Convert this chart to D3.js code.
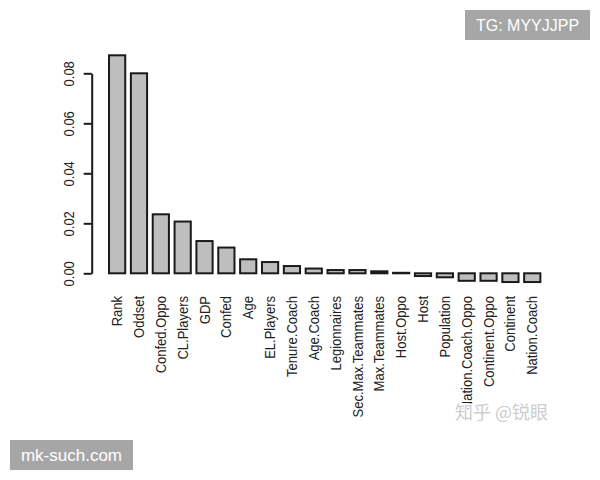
<!DOCTYPE html>
<html>
<head>
<meta charset="utf-8">
<script src="https://cdn.jsdelivr.net/npm/d3@7"></script>
<style>
  html, body { margin: 0; padding: 0; background: #fff; }
  svg { display: block; }
</style>
</head>
<body>
<svg id="chart" width="600" height="480"></svg>
<script>
const categories = ["Rank", "Oddset", "Confed.Oppo", "CL.Players", "GDP", "Confed", "Age",
  "EL.Players", "Tenure.Coach", "Age.Coach", "Legionnaires", "Sec.Max.Teammates",
  "Max.Teammates", "Host.Oppo", "Host", "Population", "Nation.Coach.Oppo",
  "Continent.Oppo", "Continent", "Nation.Coach"];
const values = [0.0872, 0.0800, 0.0236, 0.0207, 0.0129, 0.0103, 0.0056,
  0.0045, 0.0029, 0.0019, 0.0013, 0.0013,
  0.0008, 0.0002, -0.0011, -0.0016, -0.0030,
  -0.0030, -0.0035, -0.0035];
const yTicks = [0, 0.02, 0.04, 0.06, 0.08];

const svg = d3.select("#chart");
const font = "'Liberation Sans', Arial, Helvetica, sans-serif";

const x = d3.scaleBand()
  .domain(categories)
  .range([106.2, 106.2 + 20 * 21.85])
  .paddingInner(0.2 / 1.2)
  .paddingOuter(0.1 / 1.2);

const y = d3.scaleLinear().domain([0, 0.08]).range([273.3, 73.3]);

// bars
svg.append("g").selectAll("rect")
  .data(categories.map((c, i) => ({ c, v: values[i] })))
  .join("rect")
  .attr("x", d => x(d.c) + 1)
  .attr("width", x.bandwidth() - 2)
  .attr("y", d => y(Math.max(0, d.v)))
  .attr("height", d => Math.max(0.01, Math.abs(y(d.v) - y(0))))
  .attr("fill", "#bebebe")
  .attr("stroke", "#1a1a1a")
  .attr("stroke-width", 2);

// y axis
const axisG = svg.append("g")
  .attr("transform", "translate(91.7,0)")
  .call(d3.axisLeft(y).tickValues(yTicks).tickFormat(d3.format(".2f")).tickSize(8).tickSizeOuter(0));
axisG.select(".domain").attr("stroke", "#1a1a1a").attr("stroke-width", 2);
axisG.selectAll(".tick line").attr("stroke", "#1a1a1a").attr("stroke-width", 2);
axisG.selectAll(".tick text")
  .attr("transform", "rotate(-90) scale(0.93,1)")
  .attr("x", 0)
  .attr("y", -18)
  .attr("dy", "0")
  .attr("text-anchor", "middle")
  .attr("fill", "#222")
  .style("font-family", font)
  .style("font-size", "14px");

// category labels
svg.append("g").selectAll("text")
  .data(categories)
  .join("text")
  .attr("transform", d => `translate(${x(d) + x.bandwidth() / 2},296) rotate(-90) scale(0.93,1)`)
  .attr("text-anchor", "end")
  .attr("dy", "0.36em")
  .attr("fill", "#222")
  .style("font-family", font)
  .style("font-size", "14px")
  .text(d => d);

// zhihu watermark
svg.append("text")
  .attr("x", 455)
  .attr("y", 419)
  .attr("fill", "#cdcdcd")
  .attr("stroke", "#fff")
  .attr("stroke-width", 3)
  .attr("paint-order", "stroke")
  .style("font-family", "'Noto Sans CJK SC', sans-serif")
  .style("font-size", "18px")
  .text("知乎 @锐眼");

// corner badges
function badge(bx, by, w, h, label, size) {
  svg.append("rect").attr("x", bx).attr("y", by).attr("width", w).attr("height", h).attr("fill", "#a6a6a6");
  svg.append("text")
    .attr("x", bx + w / 2).attr("y", by + h / 2)
    .attr("dy", "0.36em")
    .attr("text-anchor", "middle")
    .attr("fill", "#fff")
    .style("font-family", font)
    .style("font-size", size + "px")
    .text(label);
}
badge(465, 10, 125, 30, "TG: MYYJJPP", 16);
badge(10, 440, 123, 30, "mk-such.com", 17);
</script>
</body>
</html>
